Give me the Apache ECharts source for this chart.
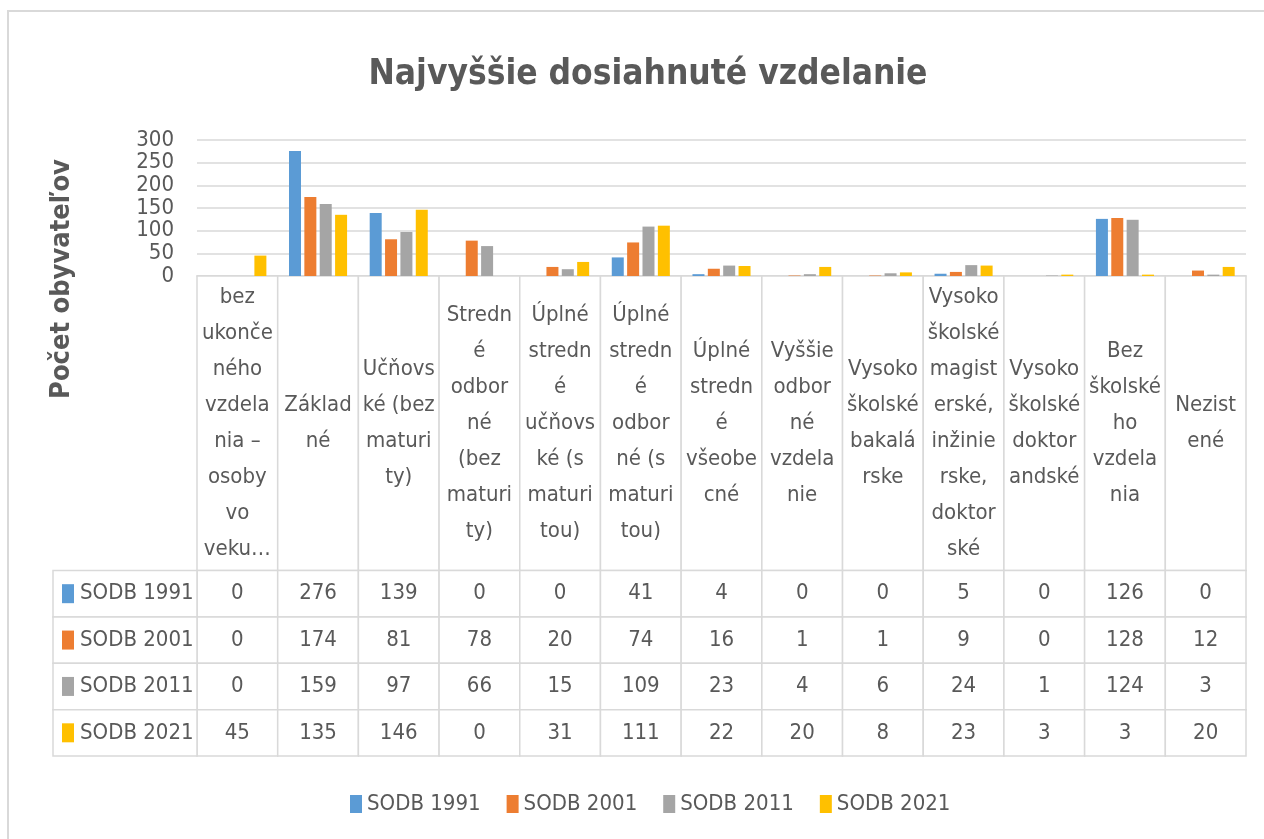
<!DOCTYPE html>
<html>
<head>
<meta charset="utf-8">
<script src="https://cdn.jsdelivr.net/npm/echarts@6/dist/echarts.min.js"></script>
<style>
  html, body { margin: 0; padding: 0; background: #fff; }
  #chart { width: 1264px; height: 839px; }
</style>
</head>
<body>
<div id="chart"></div>
<script>
// category labels, wrapped as they appear in the data table header
const categories = [
  'bez\nukonče\nného\nvzdela\nnia –\nosoby\nvo\nveku…',
  'Základ\nné',
  'Učňovs\nké (bez\nmaturi\nty)',
  'Stredn\né\nodbor\nné\n(bez\nmaturi\nty)',
  'Úplné\nstredn\né\nučňovs\nké (s\nmaturi\ntou)',
  'Úplné\nstredn\né\nodbor\nné (s\nmaturi\ntou)',
  'Úplné\nstredn\né\nvšeobe\ncné',
  'Vyššie\nodbor\nné\nvzdela\nnie',
  'Vysoko\nškolské\nbakalá\nrske',
  'Vysoko\nškolské\nmagist\nerské,\ninžinie\nrske,\ndoktor\nské',
  'Vysoko\nškolské\ndoktor\nandské',
  'Bez\nškolské\nho\nvzdela\nnia',
  'Nezist\nené'
];
const seriesNames = ['SODB 1991', 'SODB 2001', 'SODB 2011', 'SODB 2021'];
const sodb1991 = [0, 276, 139, 0, 0, 41, 4, 0, 0, 5, 0, 126, 0];
const sodb2001 = [0, 174, 81, 78, 20, 74, 16, 1, 1, 9, 0, 128, 12];
const sodb2011 = [0, 159, 97, 66, 15, 109, 23, 4, 6, 24, 1, 124, 3];
const sodb2021 = [45, 135, 146, 0, 31, 111, 22, 20, 8, 23, 3, 3, 20];
const yTicks = [0, 50, 100, 150, 200, 250, 300];

const seriesValues = [sodb1991, sodb2001, sodb2011, sodb2021];
const colors = ['#5B9BD5', '#ED7D31', '#A5A5A5', '#FFC000'];
const fontFamily = '"DejaVu Sans Condensed", "Liberation Sans Narrow", sans-serif';
const textColor = '#595959';
const lineColor = '#d9d9d9';

const chartDom = document.getElementById('chart');
const myChart = echarts.init(chartDom);

const cellRect = (c, s) => ({
  type: 'rect',
  shape: { x: c[0] - s[0] / 2, y: c[1] - s[1] / 2, width: s[0], height: s[1] },
  style: { fill: '#fff', stroke: lineColor, lineWidth: 1.5 }
});

const headerData = categories.map((c, i) => [i, 0]);
const valueData = [];
seriesValues.forEach((vals, r) => {
  vals.forEach((v, i) => valueData.push([i, r, v]));
});
const nameData = seriesNames.map((n, r) => [0, r]);

const option = {
  animation: false,
  textStyle: { fontFamily: fontFamily },
  title: {
    text: 'Najvyššie dosiahnuté vzdelanie',
    left: 643,
    textAlign: 'center',
    top: 52,
    textStyle: { fontSize: 35, fontWeight: 'bold', color: textColor, fontFamily: fontFamily }
  },
  legend: {
    data: seriesNames,
    left: 345,
    top: 788,
    icon: 'rect',
    itemWidth: 12,
    itemHeight: 18,
    itemGap: 26,
    textStyle: { fontSize: 22, color: textColor, fontFamily: fontFamily }
  },
  graphic: [
    {
      type: 'rect',
      shape: { x: 8, y: 11, width: 1270, height: 840 },
      style: { fill: 'none', stroke: lineColor, lineWidth: 2 },
      silent: true
    },
    {
      type: 'text',
      x: 62,
      y: 279,
      rotation: Math.PI / 2,
      style: {
        text: 'Počet obyvateľov',
        align: 'center',
        verticalAlign: 'middle',
        fontSize: 27,
        fontWeight: 'bold',
        fontFamily: fontFamily,
        fill: textColor
      }
    }
  ],
  grid: [
    { left: 197, top: 140, width: 1049, height: 136 },
    { left: 197, top: 276, width: 1049, height: 294.5 },
    { left: 197, top: 570.5, width: 1049, height: 185.5 },
    { left: 53, top: 570.5, width: 144, height: 185.5 }
  ],
  xAxis: [
    {
      gridIndex: 0,
      type: 'category',
      data: categories,
      axisLine: { lineStyle: { color: lineColor, width: 1.5 } },
      axisTick: { show: false },
      axisLabel: { show: false }
    },
    { gridIndex: 1, type: 'category', data: categories, show: false },
    { gridIndex: 2, type: 'category', data: categories, show: false },
    { gridIndex: 3, type: 'category', data: ['key'], show: false }
  ],
  yAxis: [
    {
      gridIndex: 0,
      type: 'value',
      min: 0,
      max: 300,
      interval: 50,
      axisLine: { show: false },
      axisTick: { show: false },
      splitLine: { lineStyle: { color: lineColor, width: 1.5 } },
      axisLabel: {
        color: textColor,
        fontSize: 22,
        fontFamily: fontFamily,
        margin: 23,
        customValues: yTicks
      }
    },
    { gridIndex: 1, type: 'category', data: ['header'], show: false },
    { gridIndex: 2, type: 'category', data: seriesNames, inverse: true, show: false },
    { gridIndex: 3, type: 'category', data: seriesNames, inverse: true, show: false }
  ],
  series: seriesValues.map((vals, k) => ({
    name: seriesNames[k],
    type: 'bar',
    xAxisIndex: 0,
    yAxisIndex: 0,
    data: vals,
    barWidth: 12,
    barGap: '28%',
    itemStyle: { color: colors[k] }
  })).concat([
    {
      type: 'custom',
      xAxisIndex: 1,
      yAxisIndex: 1,
      data: headerData,
      renderItem: function (params, api) {
        const c = api.coord([api.value(0), api.value(1)]);
        const s = api.size([1, 1]);
        return {
          type: 'group',
          children: [
            cellRect(c, s),
            {
              type: 'text',
              x: c[0],
              y: c[1],
              style: {
                text: categories[params.dataIndex],
                align: 'center',
                verticalAlign: 'middle',
                fontSize: 22,
                lineHeight: 36,
                fontFamily: fontFamily,
                fill: textColor
              }
            }
          ]
        };
      }
    },
    {
      type: 'custom',
      xAxisIndex: 2,
      yAxisIndex: 2,
      data: valueData,
      renderItem: function (params, api) {
        const c = api.coord([api.value(0), api.value(1)]);
        const s = api.size([1, 1]);
        const d = valueData[params.dataIndex];
        return {
          type: 'group',
          children: [
            cellRect(c, s),
            {
              type: 'text',
              x: c[0],
              y: c[1],
              style: {
                text: String(d[2]),
                align: 'center',
                verticalAlign: 'middle',
                fontSize: 22,
                fontFamily: fontFamily,
                fill: textColor
              }
            }
          ]
        };
      }
    },
    {
      type: 'custom',
      xAxisIndex: 3,
      yAxisIndex: 3,
      data: nameData,
      renderItem: function (params, api) {
        const c = api.coord([api.value(0), api.value(1)]);
        const s = api.size([1, 1]);
        const left = c[0] - s[0] / 2;
        return {
          type: 'group',
          children: [
            cellRect(c, s),
            {
              type: 'rect',
              shape: { x: left + 9, y: c[1] - 9.5, width: 12, height: 19 },
              style: { fill: colors[params.dataIndex] }
            },
            {
              type: 'text',
              x: left + 27,
              y: c[1],
              style: {
                text: seriesNames[params.dataIndex],
                align: 'left',
                verticalAlign: 'middle',
                fontSize: 22,
                fontFamily: fontFamily,
                fill: textColor
              }
            }
          ]
        };
      }
    }
  ])
};

myChart.setOption(option);
</script>
</body>
</html>
